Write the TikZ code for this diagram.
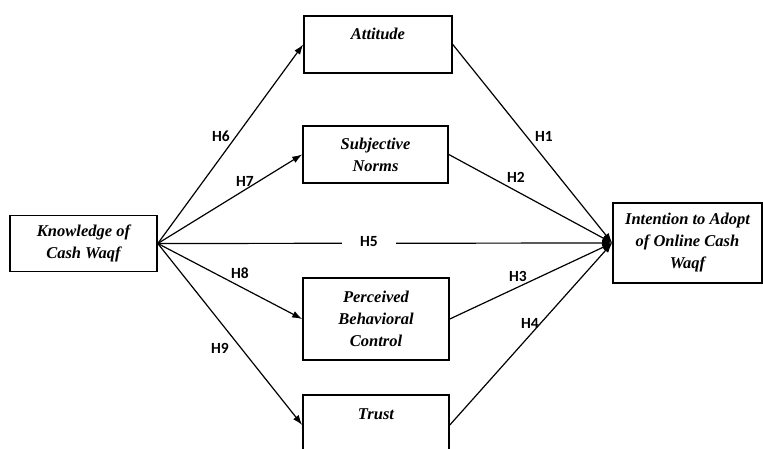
\documentclass[tikz,border=0pt]{standalone}
\usepackage{fontspec}
\setmainfont{Liberation Serif}
\newfontfamily\hfont{Carlito}
\usetikzlibrary{arrows.meta}

\begin{document}
\begin{tikzpicture}[x=1pt,y=-1pt,
    construct/.style={draw,line width=1.6pt,align=center,inner sep=0pt,
        font=\fontsize{16.5}{22}\selectfont\bfseries\itshape},
    path/.style={line width=1.2pt,-{Latex[length=10pt,width=7pt]}},
    hyp/.style={font=\fontsize{15.5}{18}\selectfont\hfont\bfseries}]
                    \clip (0,0) rectangle (763,449);
                    \node[construct,minimum width=147,minimum height=56] (know) at (83.5,243.5) {Knowledge of\\Cash Waqf};
                    \node[construct,minimum width=148,minimum height=57] (att) at (378,44.5) {Attitude\\\mbox{}};
                    \node[construct,minimum width=145,minimum height=57] (sub) at (375.5,154.5) {Subjective\\Norms};
                    \node[construct,minimum width=146,minimum height=82] (pbc) at (376,319) {Perceived\\Behavioral\\Control};
                    \node[construct,minimum width=146,minimum height=60] (trust) at (376,425) {Trust\\\mbox{}};
                    \node[construct,minimum width=149,minimum height=80] (intent) at (687.5,243) {Intention to Adopt\\of Online Cash\\Waqf};
                    \draw[path] (know.east) -- (att.west);
                    \draw[path] (know.east) -- (sub.west);
                    \draw[path] (know.east) -- (pbc.west);
                    \draw[path] (know.east) -- (trust.west);
                    \draw[path] (know.east) -- (intent.west);
                    \draw[path] (att.east) -- (intent.west);
                    \draw[path] (sub.east) -- (intent.west);
                    \draw[path] (pbc.east) -- (intent.west);
                    \draw[path] (trust.east) -- (intent.west);
                    \node[hyp] (h1) at (544,136) {H1};
                    \node[hyp] (h2) at (516,177) {H2};
                    \node[hyp] (h3) at (518,276) {H3};
                    \node[hyp] (h4) at (530,323) {H4};
                    \node[hyp,fill=white,inner xsep=18pt] (h5) at (369,242) {H5};
                    \node[hyp] (h6) at (221,136) {H6};
                    \node[hyp] (h7) at (245,181) {H7};
                    \node[hyp] (h8) at (240,273) {H8};
                    \node[hyp] (h9) at (220,348) {H9};
                \end{tikzpicture}
\end{document}
